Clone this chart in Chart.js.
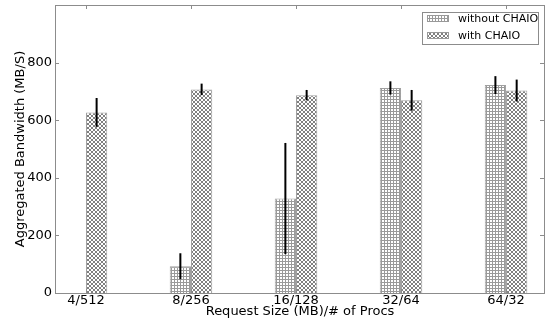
<!DOCTYPE html>
<html>
<head>
<meta charset="utf-8">
<script src="https://cdn.jsdelivr.net/npm/chart.js@4/dist/chart.umd.min.js"></script>
<style>
  html, body { margin: 0; padding: 0; background: #fff; }
  #wrap { width: 546px; height: 322px; }
</style>
</head>
<body>
<div id="wrap"><canvas id="bw"></canvas></div>
<script>
"use strict";

// --- data ---
const categories = ['4/512', '8/256', '16/128', '32/64', '64/32'];
const withoutChaio = [null, 93, 328, 712, 722];
const withoutErr = [null, 45, 193, 23, 31];
const withChaio = [627, 707, 687, 669, 703];
const withErr = [50, 20, 18, 36, 38];
const yTicks = [0, 200, 400, 600, 800];

const FONT = "'DejaVu Sans', sans-serif";
const frameColor = '#8c8c8c';

// hatch fills similar to matplotlib '+' and 'x' hatches
function gridPattern() {
    const c = document.createElement('canvas');
    c.width = 3; c.height = 3;
    const g = c.getContext('2d');
    g.fillStyle = '#fff'; g.fillRect(0, 0, 3, 3);
    g.fillStyle = '#9a9a9a';
    g.fillRect(0, 0, 3, 1);
    g.fillRect(0, 0, 1, 3);
    return g.createPattern(c, 'repeat');
}
function crossPattern() {
    const c = document.createElement('canvas');
    c.width = 4; c.height = 4;
    const g = c.getContext('2d');
    g.fillStyle = '#fff'; g.fillRect(0, 0, 4, 4);
    g.fillStyle = '#808080';
    for (let i = 0; i < 4; i++) {
        g.fillRect(i, i, 1, 1);
        g.fillRect(3 - i, i, 1, 1);
    }
    return g.createPattern(c, 'repeat');
}
const fillWithout = gridPattern();
const fillWith = crossPattern();

const toPoints = vals => vals.map((v, i) => ({ x: i, y: v }));

// error bars, inner tick marks, frame and boxed legend
const extrasPlugin = {
    id: 'extras',
    afterDatasetsDraw(chart) {
        const ctx = chart.ctx;
        const ys = chart.scales.y;
        ctx.save();
        ctx.strokeStyle = '#000';
        ctx.lineWidth = 2;
        chart.data.datasets.forEach((ds, di) => {
            const meta = chart.getDatasetMeta(di);
            meta.data.forEach((bar, i) => {
                const v = ds.data[i].y, e = ds.errors[i];
                if (v == null || e == null) return;
                ctx.beginPath();
                ctx.moveTo(bar.x, ys.getPixelForValue(v + e));
                ctx.lineTo(bar.x, ys.getPixelForValue(v - e));
                ctx.stroke();
            });
        });
        ctx.restore();
    },
    afterDraw(chart) {
        const ctx = chart.ctx;
        const a = chart.chartArea;
        const xs = chart.scales.x, ys = chart.scales.y;
        ctx.save();
        // frame
        ctx.strokeStyle = frameColor;
        ctx.lineWidth = 1;
        ctx.strokeRect(Math.round(a.left) + 0.5, Math.round(a.top) + 0.5,
            Math.round(a.right - a.left) - 1, Math.round(a.bottom - a.top));
        // inward ticks
        ctx.beginPath();
        yTicks.forEach(t => {
            const py = Math.round(ys.getPixelForValue(t)) + 0.5;
            ctx.moveTo(a.left, py); ctx.lineTo(a.left + 4, py);
            ctx.moveTo(a.right - 1, py); ctx.lineTo(a.right - 5, py);
        });
        categories.forEach((c, i) => {
            const px = Math.round(xs.getPixelForValue(i)) + 0.5;
            ctx.moveTo(px, a.bottom); ctx.lineTo(px, a.bottom - 4);
            ctx.moveTo(px, a.top); ctx.lineTo(px, a.top + 4);
        });
        ctx.stroke();

        // legend box
        const lx = 422, ly = 12, lw = 116, lh = 32;
        ctx.fillStyle = '#fff';
        ctx.fillRect(lx, ly, lw, lh);
        ctx.strokeStyle = frameColor;
        ctx.strokeRect(lx + 0.5, ly + 0.5, lw, lh);
        const entries = [
            { label: 'without CHAIO', fill: fillWithout, y: 15 },
            { label: 'with CHAIO', fill: fillWith, y: 32 }
        ];
        ctx.font = '11px ' + FONT;
        ctx.textBaseline = 'middle';
        entries.forEach(en => {
            ctx.fillStyle = en.fill;
            ctx.fillRect(427, en.y, 21, 6);
            ctx.strokeStyle = '#999';
            ctx.strokeRect(427.5, en.y + 0.5, 21, 6);
            ctx.fillStyle = '#000';
            ctx.fillText(en.label, 458, en.y + 4);
        });
        ctx.restore();
    }
};

new Chart(document.getElementById('bw').getContext('2d'), {
    type: 'bar',
    data: {
        datasets: [
            {
                label: 'without CHAIO',
                data: toPoints(withoutChaio),
                errors: withoutErr,
                backgroundColor: fillWithout,
                borderColor: '#a0a0a0',
                borderWidth: 1
            },
            {
                label: 'with CHAIO',
                data: toPoints(withChaio),
                errors: withErr,
                backgroundColor: fillWith,
                borderColor: '#a0a0a0',
                borderWidth: 1
            }
        ]
    },
    options: {
        responsive: true,
        maintainAspectRatio: false,
        animation: false,
        layout: { padding: { top: 5, right: 1, left: 0, bottom: 0 } },
        datasets: { bar: { categoryPercentage: 0.405, barPercentage: 1.0 } },
        plugins: {
            legend: { display: false },
            tooltip: { enabled: false }
        },
        scales: {
            x: {
                type: 'linear',
                offset: false,
                min: -0.295,
                max: 4.371,
                grid: { display: false, drawTicks: false },
                border: { display: false },
                afterBuildTicks: axis => { axis.ticks = categories.map((c, i) => ({ value: i })); },
                afterFit: axis => {
                    axis.height = 29;
                    axis.paddingLeft = 0;
                    axis.paddingRight = 0;
                },
                ticks: {
                    color: '#000',
                    padding: 0,
                    font: { family: FONT, size: 13 },
                    callback: v => categories[v]
                },
                title: {
                    display: true,
                    text: 'Request Size (MB)/# of Procs',
                    color: '#000',
                    font: { family: FONT, size: 13 },
                    padding: { top: 0, bottom: 3 }
                }
            },
            y: {
                min: 0,
                max: 1000,
                grid: { display: false, drawTicks: false },
                border: { display: false },
                afterBuildTicks: axis => { axis.ticks = yTicks.map(v => ({ value: v })); },
                afterFit: axis => {
                    axis.width = 55;
                    axis.paddingTop = 0;
                    axis.paddingBottom = 0;
                },
                ticks: {
                    color: '#000',
                    padding: 3,
                    font: { family: FONT, size: 13 }
                },
                title: {
                    display: true,
                    text: 'Aggregated Bandwidth (MB/S)',
                    color: '#000',
                    font: { family: FONT, size: 13 },
                    padding: { top: 13, bottom: 0 }
                }
            }
        }
    },
    plugins: [extrasPlugin]
});
</script>
</body>
</html>
